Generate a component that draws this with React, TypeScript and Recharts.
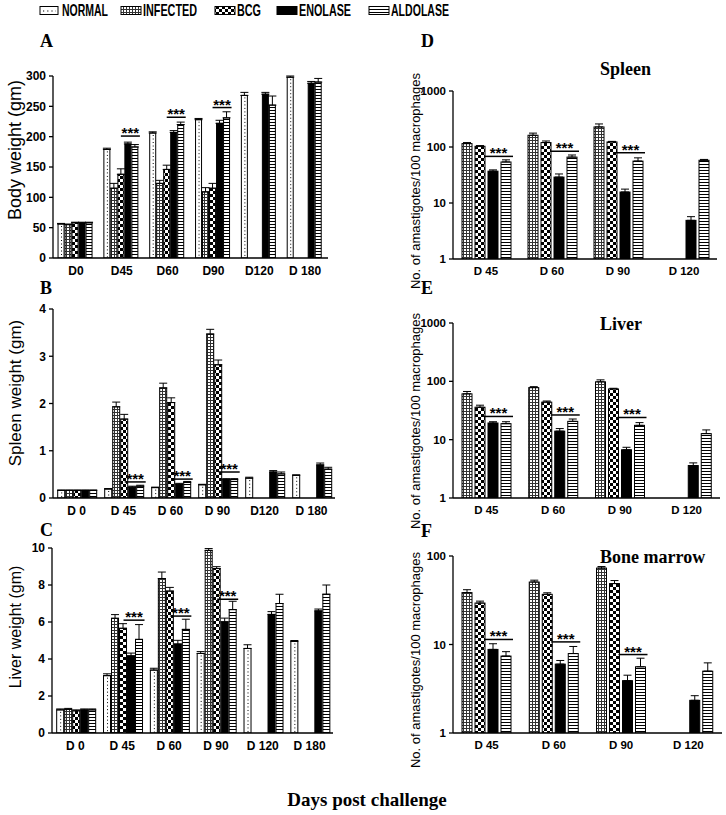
import React from 'react';
import { BarChart, Bar, XAxis, YAxis, ErrorBar } from 'recharts';

const FONT_SANS = "'Liberation Sans', Arial, Helvetica, sans-serif";
const FONT_SERIF = "'Liberation Serif', 'Times New Roman', serif";
const FONT_NARROW = "'Liberation Sans Narrow', 'Arial Narrow', 'Liberation Sans', sans-serif";

// ---------- categories ----------
const catsA = ['D0', 'D45', 'D60', 'D90', 'D120', 'D 180'];
const catsB = ['D 0', 'D 45', 'D 60', 'D 90', 'D120', 'D 180'];
const catsC = ['D 0', 'D 45', 'D 60', 'D 90', 'D 120', 'D 180'];
const catsR = ['D 45', 'D 60', 'D 90', 'D 120'];

// ---------- Panel A: body weight (gm) ----------
const normalA = [56, 179, 206, 228, 268, 298];
const infectedA = [55, 115, 123, 109, null, null];
const bcgA = [58, 138, 146, 115, null, null];
const enolaseA = [58, 188, 207, 222, 270, 288];
const aldolaseA = [58, 183, 220, 231, 252, 290];
const normalErrA = [1, 2, 2, 2, 5, 2];
const infectedErrA = [1, 8, 5, 7, 0, 0];
const bcgErrA = [1, 9, 7, 8, 0, 0];
const enolaseErrA = [1, 3, 3, 5, 3, 3];
const aldolaseErrA = [1, 4, 4, 10, 15, 6];
const sigA = [null, 201, 232, 248, null, null];

// ---------- Panel B: spleen weight (gm) ----------
const normalB = [0.16, 0.19, 0.22, 0.28, 0.42, 0.48];
const infectedB = [0.16, 1.93, 2.33, 3.47, null, null];
const bcgB = [0.16, 1.67, 2.02, 2.82, null, null];
const enolaseB = [0.16, 0.23, 0.29, 0.39, 0.55, 0.7];
const aldolaseB = [0.16, 0.25, 0.33, 0.39, 0.51, 0.61];
const normalErrB = [0.01, 0.01, 0.01, 0.01, 0.02, 0.01];
const infectedErrB = [0.01, 0.1, 0.1, 0.1, 0, 0];
const bcgErrB = [0.01, 0.1, 0.1, 0.1, 0, 0];
const enolaseErrB = [0.01, 0.02, 0.02, 0.02, 0.03, 0.04];
const aldolaseErrB = [0.01, 0.02, 0.02, 0.02, 0.04, 0.04];
const sigB = [null, 0.34, 0.4, 0.55, null, null];

// ---------- Panel C: liver weight (gm) ----------
const normalC = [1.25, 3.1, 3.4, 4.3, 4.57, 4.95];
const infectedC = [1.28, 6.2, 8.35, 9.87, null, null];
const bcgC = [1.2, 5.66, 7.67, 8.89, null, null];
const enolaseC = [1.25, 4.17, 4.81, 6.01, 6.41, 6.6];
const aldolaseC = [1.25, 5.06, 5.6, 6.67, 7.0, 7.5];
const normalErrC = [0.05, 0.1, 0.1, 0.1, 0.2, 0.05];
const infectedErrC = [0.05, 0.2, 0.35, 0.1, 0, 0];
const bcgErrC = [0.05, 0.25, 0.2, 0.1, 0, 0];
const enolaseErrC = [0.05, 0.15, 0.2, 0.2, 0.15, 0.1];
const aldolaseErrC = [0.05, 0.8, 0.55, 0.45, 0.5, 0.5];
const sigC = [null, 6.1, 6.32, 7.23, null, null];

// ---------- Panel D: spleen amastigotes ----------
const infectedD = [115, 162, 228, null];
const bcgD = [103, 120, 123, null];
const enolaseD = [37, 29, 15.7, 4.9];
const aldolaseD = [54, 66, 56, 58];
const infectedErrD = [5, 15, 30, 0];
const bcgErrD = [3, 8, 3, 0];
const enolaseErrD = [2, 4, 2, 0.8];
const aldolaseErrD = [5, 6, 8, 2];
const sigD = [68, 84, 79, null];

// ---------- Panel E: liver amastigotes ----------
const infectedE = [61, 78, 98, null];
const bcgE = [36, 44, 74, null];
const enolaseE = [19.3, 14, 6.7, 3.6];
const aldolaseE = [18.8, 20.6, 17.6, 12.7];
const infectedErrE = [6, 3, 8, 0];
const bcgErrE = [3, 2, 2, 0];
const enolaseErrE = [1, 1.5, 0.7, 0.4];
const aldolaseErrE = [1.5, 2, 2, 2];
const sigE = [25, 26.5, 24, null];

// ---------- Panel F: bone marrow amastigotes ----------
const infectedF = [38.6, 50.8, 73, null];
const bcgF = [29.4, 36.9, 48.8, null];
const enolaseF = [8.8, 6.0, 3.9, 2.34];
const aldolaseF = [7.4, 7.9, 5.6, 5.0];
const infectedErrF = [3, 2.5, 3, 0];
const bcgErrF = [1.5, 1.5, 4, 0];
const enolaseErrF = [1.4, 0.6, 0.6, 0.3];
const aldolaseErrF = [0.9, 1.6, 1.4, 1.2];
const sigF = [11.4, 10.7, 7.7, null];

const linTicksA = [0, 50, 100, 150, 200, 250, 300];
const linTicksB = [0, 1, 2, 3, 4];
const linTicksC = [0, 2, 4, 6, 8, 10];
const logTicks3 = [1, 10, 100, 1000];
const logTicks2 = [1, 10, 100];

type Arr = (number | null)[];

function err(v: number | null, e: number) {
  return v == null ? null : [0, e];
}

function makeRows(
  cats: string[],
  normal: Arr | null,
  infected: Arr,
  bcg: Arr,
  enolase: Arr,
  aldolase: Arr,
  nE: number[] | null,
  iE: number[],
  bE: number[],
  eE: number[],
  aE: number[],
  sig: Arr
) {
  return cats.map((c, i) => ({
    cat: c,
    normal: normal ? normal[i] : null,
    infected: infected[i],
    bcg: bcg[i],
    enolase: enolase[i],
    aldolase: aldolase[i],
    normalErr: normal && nE ? err(normal[i], nE[i]) : null,
    infectedErr: err(infected[i], iE[i]),
    bcgErr: err(bcg[i], bE[i]),
    enolaseErr: err(enolase[i], eE[i]),
    aldolaseErr: err(aldolase[i], aE[i]),
    sig: sig[i],
  }));
}

const rowsA = makeRows(catsA, normalA, infectedA, bcgA, enolaseA, aldolaseA, normalErrA, infectedErrA, bcgErrA, enolaseErrA, aldolaseErrA, sigA);
const rowsB = makeRows(catsB, normalB, infectedB, bcgB, enolaseB, aldolaseB, normalErrB, infectedErrB, bcgErrB, enolaseErrB, aldolaseErrB, sigB);
const rowsC = makeRows(catsC, normalC, infectedC, bcgC, enolaseC, aldolaseC, normalErrC, infectedErrC, bcgErrC, enolaseErrC, aldolaseErrC, sigC);
const rowsD = makeRows(catsR, null, infectedD, bcgD, enolaseD, aldolaseD, null, infectedErrD, bcgErrD, enolaseErrD, aldolaseErrD, sigD);
const rowsE = makeRows(catsR, null, infectedE, bcgE, enolaseE, aldolaseE, null, infectedErrE, bcgErrE, enolaseErrE, aldolaseErrE, sigE);
const rowsF = makeRows(catsR, null, infectedF, bcgF, enolaseF, aldolaseF, null, infectedErrF, bcgErrF, enolaseErrF, aldolaseErrF, sigF);

function BarShape(props: any) {
  const { x, y, width, height, kind, payload, log, gap } = props;
  if (x == null || y == null || !(height > 0) || !(width > 0)) return null;
  const els: any[] = [];
  if (kind === 'normal') {
    els.push(<rect key="r" x={x} y={y} width={width} height={height} fill="#fff" stroke="#000" strokeWidth={1} />);
    els.push(
      <line key="d" x1={x + width / 2 + 0.5} x2={x + width / 2 + 0.5} y1={y + 2} y2={y + height} stroke="#000" strokeWidth={1} strokeDasharray="1 2.5" />
    );
  } else {
    const fill = kind === 'enolase' ? '#000' : `url(#pat-${kind})`;
    els.push(<rect key="r" x={x} y={y} width={width} height={height} fill={fill} stroke="#000" strokeWidth={1} />);
  }
  if (kind === 'aldolase' && payload && payload.sig != null && payload.aldolase) {
    const v = payload.aldolase;
    const y0 = y + height;
    const sy = log
      ? y0 - (Math.log10(payload.sig) * height) / Math.log10(v)
      : y0 - (payload.sig * height) / v;
    const x1 = x - width - gap - 4;
    const x2 = x + width + 2;
    els.push(<line key="s" x1={x1} x2={x2} y1={sy} y2={sy} stroke="#000" strokeWidth={1.5} />);
    els.push(
      <text key="t" x={(x1 + x2) / 2} y={sy + 2} textAnchor="middle" fontSize={15} fontWeight="bold" fontFamily={FONT_SANS} fill="#000">
        ***
      </text>
    );
  }
  return <g>{els}</g>;
}

type PanelProps = {
  rows: any[];
  withNormal: boolean;
  log: boolean;
  domain: [number, number];
  ticks: number[];
  boxLeft: number;
  plotLeft: number;
  plotRight: number;
  plotTop: number;
  plotBottom: number;
  tickFont: number;
  barSize?: number;
  barGap: number;
  catGap?: string;
};

function Panel(p: PanelProps) {
  const padTop = 20;
  const padBottom = 30;
  const width = p.plotRight - p.boxLeft + 10;
  const height = p.plotBottom - p.plotTop + padTop + padBottom;
  const tickStyle = { fill: '#000', fontSize: p.tickFont, fontWeight: 'bold', fontFamily: FONT_SANS };
  const kinds = p.withNormal ? ['normal', 'infected', 'bcg', 'enolase', 'aldolase'] : ['infected', 'bcg', 'enolase', 'aldolase'];
  return (
    <div style={{ position: 'absolute', left: p.boxLeft, top: p.plotTop - padTop, width, height }}>
      <BarChart
        width={width}
        height={height}
        data={p.rows}
        margin={{ top: padTop, right: 10, bottom: 0, left: 0 }}
        barGap={p.barGap}
        barCategoryGap={p.catGap ?? '10%'}
        barSize={p.barSize}
      >
        <XAxis
          dataKey="cat"
          interval={0}
          tickLine={false}
          axisLine={{ stroke: '#000', strokeWidth: 1.3 }}
          tick={tickStyle}
          height={padBottom}
          tickSize={6}
          tickMargin={2}
        />
        <YAxis
          width={p.plotLeft - p.boxLeft}
          scale={p.log ? 'log' : 'linear'}
          domain={p.domain}
          ticks={p.ticks}
          allowDataOverflow
          interval={0}
          axisLine={{ stroke: '#000', strokeWidth: 1.3 }}
          tickLine={{ stroke: '#000', strokeWidth: 1.3 }}
          tickSize={4}
          tickMargin={3}
          tick={tickStyle}
        />
        {kinds.map((k) => (
          <Bar
            key={k}
            dataKey={k}
            isAnimationActive={false}
            shape={(sp: any) => <BarShape {...sp} kind={k} log={p.log} gap={p.barGap} />}
          >
            <ErrorBar dataKey={`${k}Err`} width={4} stroke="#000" strokeWidth={1} direction="y" />
          </Bar>
        ))}
      </BarChart>
    </div>
  );
}

function Defs() {
  return (
    <svg width={0} height={0} style={{ position: 'absolute', left: 0, top: 0 }}>
      <defs>
        <pattern id="pat-infected" width={3} height={3} patternUnits="userSpaceOnUse">
          <rect width={3} height={3} fill="#fff" />
          <rect x={0} y={0} width={3} height={1} fill="#333" />
          <rect x={0} y={0} width={1} height={3} fill="#333" />
        </pattern>
        <pattern id="pat-bcg" width={6} height={6} patternUnits="userSpaceOnUse">
          <rect width={6} height={6} fill="#fff" />
          <rect x={0} y={0} width={3} height={3} fill="#000" />
          <rect x={3} y={3} width={3} height={3} fill="#000" />
        </pattern>
        <pattern id="pat-aldolase" width={4} height={3} patternUnits="userSpaceOnUse">
          <rect width={4} height={3} fill="#fff" />
          <rect x={0} y={0} width={4} height={1} fill="#000" />
        </pattern>
      </defs>
    </svg>
  );
}

const legendNames = ['NORMAL', 'INFECTED', 'BCG', 'ENOLASE', 'ALDOLASE'];

function Legend() {
  const items = [
    { name: legendNames[0], bx: 40, bw: 18, tx: 62, tw: 46 },
    { name: legendNames[1], bx: 121, bw: 20, tx: 143, tw: 54 },
    { name: legendNames[2], bx: 215, bw: 20, tx: 237, tw: 24 },
    { name: legendNames[3], bx: 277, bw: 20, tx: 299, tw: 52 },
    { name: legendNames[4], bx: 369, bw: 20, tx: 391, tw: 58 },
  ];
  const fills = ['#fff', 'url(#pat-infected)', 'url(#pat-bcg)', '#000', 'url(#pat-aldolase)'];
  return (
    <g>
      {items.map((it, i) => (
        <g key={it.name}>
          <rect x={it.bx} y={6.5} width={it.bw} height={8} fill={fills[i]} stroke="#000" strokeWidth={1} />
          {i === 0 && (
            <line x1={it.bx + 3} x2={it.bx + it.bw - 2} y1={11} y2={11} stroke="#000" strokeWidth={1.2} strokeDasharray="1.2 3" />
          )}
          <text
            x={it.tx}
            y={16}
            fontSize={16.5}
            fontWeight="bold"
            fontFamily={FONT_NARROW}
            textLength={it.tw}
            lengthAdjust="spacingAndGlyphs"
            fill="#000"
          >
            {it.name}
          </text>
        </g>
      ))}
    </g>
  );
}

function Overlay() {
  const yLabel = (txt: string, x: number, y: number, fs: number, key: string) => (
    <text
      key={key}
      x={x}
      y={y}
      transform={`rotate(-90 ${x} ${y})`}
      textAnchor="middle"
      dominantBaseline="central"
      fontSize={fs}
      fontFamily={FONT_SANS}
      fill="#000"
    >
      {txt}
    </text>
  );
  const letter = (t: string, x: number, y: number) => (
    <text key={t} x={x} y={y} fontSize={18} fontWeight="bold" fontFamily={FONT_SERIF} fill="#000">
      {t}
    </text>
  );
  const title = (t: string, x: number, y: number) => (
    <text key={t} x={x} y={y} fontSize={18} fontWeight="bold" fontFamily={FONT_SERIF} fill="#000">
      {t}
    </text>
  );
  return (
    <svg width={726} height={815} style={{ position: 'absolute', left: 0, top: 0, pointerEvents: 'none' }}>
      <Legend />
      {letter('A', 40, 47)}
      {letter('B', 40, 294)}
      {letter('C', 40, 536)}
      {letter('D', 421, 47)}
      {letter('E', 421, 294)}
      {letter('F', 421, 537)}
      {title('Spleen', 600, 75)}
      {title('Liver', 600, 330)}
      {title('Bone marrow', 600, 563)}
      {yLabel('Body weight (gm)', 15, 150, 18, 'ya')}
      {yLabel('Spleen weight (gm)', 15, 393, 17, 'yb')}
      {yLabel('Liver weight (gm)', 15, 627, 16, 'yc')}
      {yLabel('No. of amastigotes/100  macrophages', 415, 181, 13, 'yd')}
      {yLabel('No. of amastigotes/100  macrophages', 415, 421, 13, 'ye')}
      {yLabel('No. of amastigotes/100  macrophages', 415, 660, 13, 'yf')}
      <text x={367} y={806} textAnchor="middle" fontSize={19} fontWeight="bold" fontFamily={FONT_SERIF} fill="#000">
        Days post challenge
      </text>
    </svg>
  );
}

export default function App() {
  return (
    <div style={{ position: 'absolute', left: 0, top: 0, width: 726, height: 815, background: '#fff', overflow: 'hidden' }}>
      <Defs />
      <Panel rows={rowsA} withNormal log={false} domain={[0, 300]} ticks={linTicksA} boxLeft={0} plotLeft={53} plotRight={328} plotTop={76} plotBottom={258} tickFont={12} barGap={1} catGap="11%" />
      <Panel rows={rowsB} withNormal log={false} domain={[0, 4]} ticks={linTicksB} boxLeft={0} plotLeft={53} plotRight={335} plotTop={309} plotBottom={498} tickFont={12} barGap={1} catGap="10%" />
      <Panel rows={rowsC} withNormal log={false} domain={[0, 10]} ticks={linTicksC} boxLeft={0} plotLeft={52} plotRight={333} plotTop={548} plotBottom={733} tickFont={12} barGap={1} catGap="10%" />
      <Panel rows={rowsD} withNormal={false} log domain={[1, 1000]} ticks={logTicks3} boxLeft={400} plotLeft={453} plotRight={717} plotTop={91} plotBottom={259} tickFont={11.5} barGap={3} barSize={10} />
      <Panel rows={rowsE} withNormal={false} log domain={[1, 1000]} ticks={logTicks3} boxLeft={400} plotLeft={453} plotRight={720} plotTop={323} plotBottom={498} tickFont={11.5} barGap={3} barSize={10} />
      <Panel rows={rowsF} withNormal={false} log domain={[1, 100]} ticks={logTicks2} boxLeft={400} plotLeft={453} plotRight={722} plotTop={556} plotBottom={733} tickFont={11.5} barGap={3} barSize={10} />
      <Overlay />
    </div>
  );
}
